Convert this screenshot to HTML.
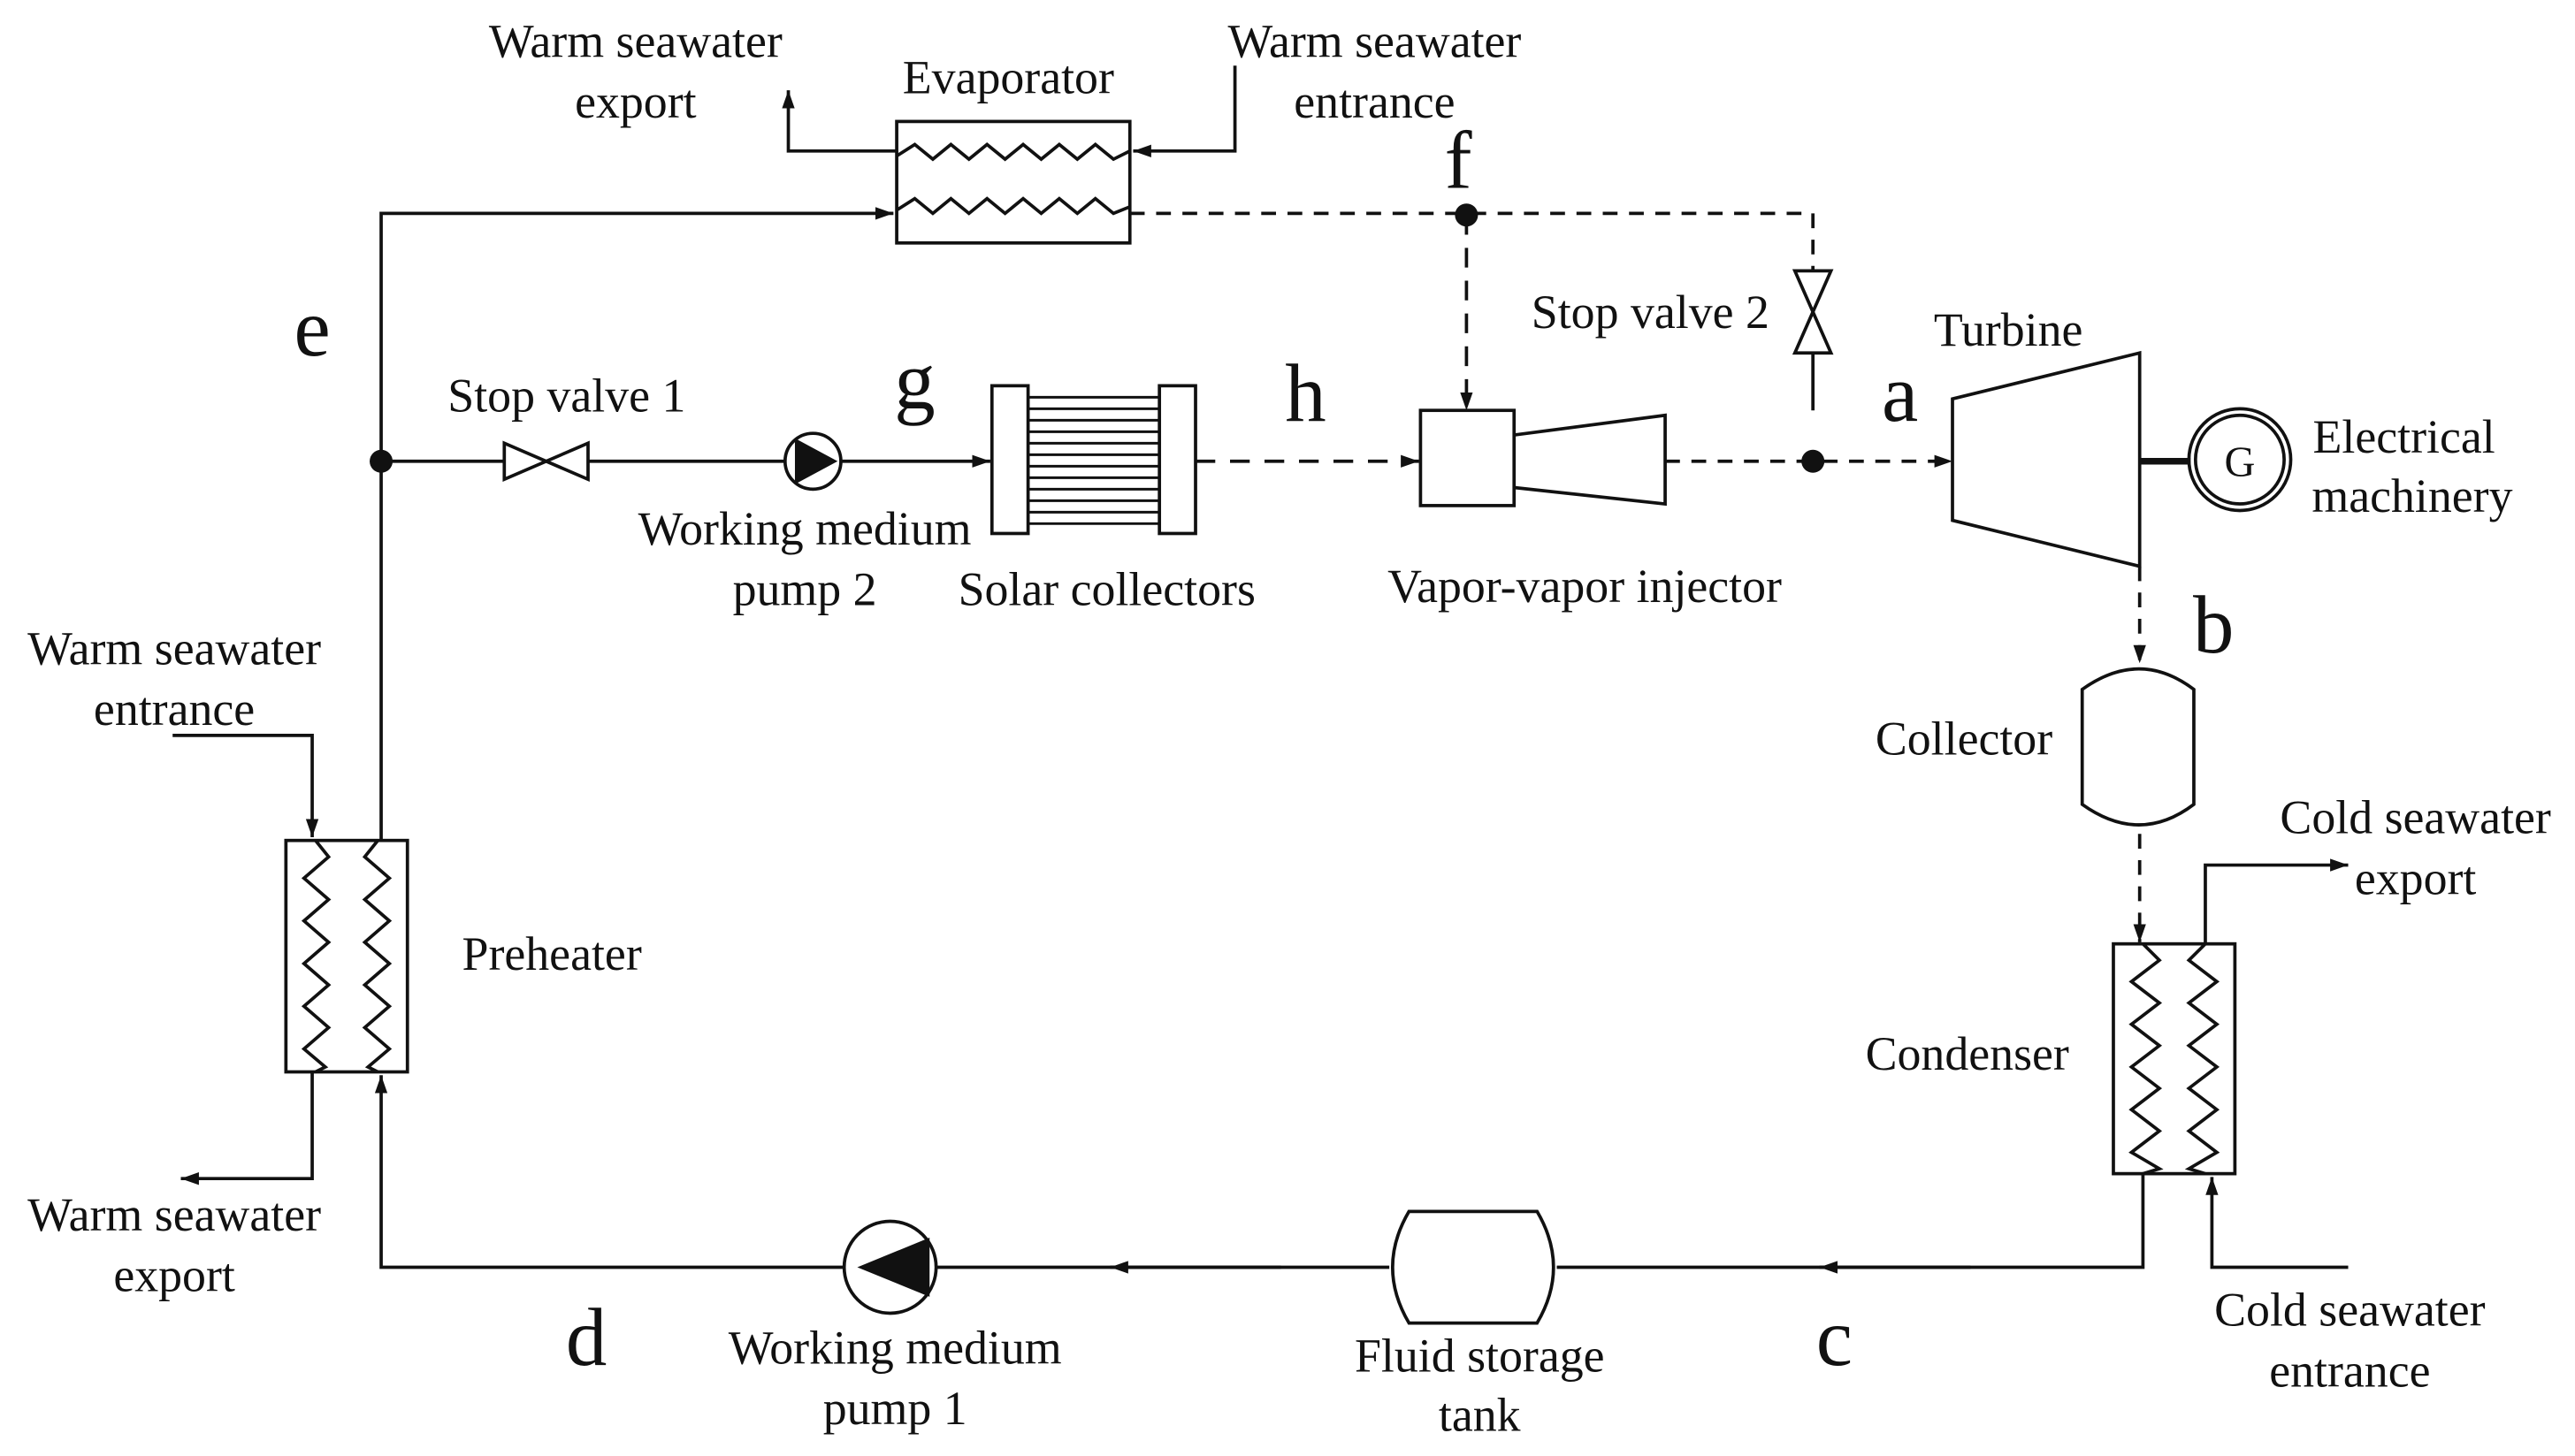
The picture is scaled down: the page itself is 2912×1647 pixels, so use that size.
<!DOCTYPE html>
<html><head><meta charset="utf-8"><style>
html,body{margin:0;padding:0;background:#fff;}
svg{display:block;}
text{font-family:"Liberation Serif",serif;fill:#111;}
</style></head><body>
<svg width="2912" height="1647" viewBox="0 0 1568 887" xmlns="http://www.w3.org/2000/svg">
<defs>
<marker id="ar" viewBox="0 0 10 10" refX="10" refY="5" markerWidth="11" markerHeight="11" markerUnits="userSpaceOnUse" orient="auto"><path d="M0,1.5 L10,5 L0,8.5 z" fill="#111"/></marker>
</defs>
<g stroke="#111" stroke-width="2" fill="none">
<rect x="546" y="74" width="142" height="74"/>
<polyline points="546,95 557,88 568,97 579,88 590,97 601,88 612,97 623,88 634,97 645,88 656,97 667,88 678,97 688,92"/>
<polyline points="546,128 557,121 568,130 579,121 590,130 601,121 612,130 623,121 634,130 645,121 656,130 667,121 678,130 688,126"/>
<polyline points="546,92 480,92 480,55" marker-end="url(#ar)"/>
<polyline points="752,40 752,92 690,92" marker-end="url(#ar)"/>
<polyline points="232,512 232,130 544,130" marker-end="url(#ar)"/>
<polyline points="688,130 1104,130 1104,165" stroke-dasharray="9,7"/>
<line x1="893" y1="131" x2="893" y2="250" stroke-dasharray="12,8" marker-end="url(#ar)"/>
<path d="M1093,165 L1115,165 L1093,215 L1115,215 Z"/>
<line x1="1104" y1="215" x2="1104" y2="250"/>
<rect x="865" y="250" width="57" height="58"/>
<path d="M922,265 L1014,253 L1014,307 L922,297"/>
<line x1="1014" y1="281" x2="1189" y2="281" stroke-dasharray="9,7" marker-end="url(#ar)"/>
<line x1="728" y1="281" x2="864" y2="281" stroke-dasharray="12,9" marker-end="url(#ar)"/>
<path d="M1189,243 L1303,215 L1303,345 L1189,317 Z"/>
<line x1="1303" y1="281" x2="1334" y2="281" stroke-width="4"/>
<circle cx="1364" cy="280" r="31"/>
<circle cx="1364" cy="280" r="27"/>
<line x1="1303" y1="345" x2="1303" y2="404" stroke-dasharray="9,7" marker-end="url(#ar)"/>
<path d="M1268,420 Q1303,395 1336,420 L1336,490 Q1303,515 1268,490 Z"/>
<line x1="1303" y1="508" x2="1303" y2="574" stroke-dasharray="9,7" marker-end="url(#ar)"/>
<rect x="1287" y="575" width="74" height="140"/>
<polyline points="1305,575 1315,585 1298,598 1315,611 1298,624 1315,637 1298,650 1315,663 1298,676 1315,689 1298,702 1315,712 1305,715"/>
<polyline points="1343,575 1333,585 1350,598 1333,611 1350,624 1333,637 1350,650 1333,663 1350,676 1333,689 1350,702 1333,712 1343,715"/>
<polyline points="1343,575 1343,527 1430,527" marker-end="url(#ar)"/>
<polyline points="1430,772 1347,772 1347,717" marker-end="url(#ar)"/>
<polyline points="1305,715 1305,772 948,772"/>
<line x1="1200" y1="772" x2="1108" y2="772" marker-end="url(#ar)"/>
<path d="M858,738 L936,738 Q956,772 936,806 L858,806 Q838,772 858,738 Z"/>
<line x1="846" y1="772" x2="570" y2="772"/>
<line x1="780" y1="772" x2="676" y2="772" marker-end="url(#ar)"/>
<circle cx="542" cy="772" r="28"/>
<polyline points="514,772 232,772 232,655" marker-end="url(#ar)"/>
<rect x="174" y="512" width="74" height="141"/>
<polyline points="192,512 200,522 185,535 200,548 185,561 200,574 185,587 200,600 185,613 200,626 185,639 198,650 192,653"/>
<polyline points="230,512 222,522 237,535 222,548 237,561 222,574 237,587 222,600 237,613 222,626 237,639 224,650 230,653"/>
<polyline points="105,448 190,448 190,510" marker-end="url(#ar)"/>
<polyline points="190,653 190,718 110,718" marker-end="url(#ar)"/>
<line x1="232" y1="281" x2="307" y2="281"/>
<path d="M307,270 L307,292 L358,270 L358,292 Z"/>
<line x1="358" y1="281" x2="478" y2="281"/>
<circle cx="495" cy="281" r="17"/>
<line x1="512" y1="281" x2="603" y2="281" marker-end="url(#ar)"/>
<rect x="604" y="235" width="22" height="90"/>
<rect x="706" y="235" width="22" height="90"/>
<g stroke-width="1.6">
<line x1="626" y1="242" x2="706" y2="242"/><line x1="626" y1="249" x2="706" y2="249"/>
<line x1="626" y1="256" x2="706" y2="256"/><line x1="626" y1="263" x2="706" y2="263"/>
<line x1="626" y1="270" x2="706" y2="270"/><line x1="626" y1="277" x2="706" y2="277"/>
<line x1="626" y1="284" x2="706" y2="284"/><line x1="626" y1="291" x2="706" y2="291"/>
<line x1="626" y1="298" x2="706" y2="298"/><line x1="626" y1="305" x2="706" y2="305"/>
<line x1="626" y1="312" x2="706" y2="312"/><line x1="626" y1="319" x2="706" y2="319"/>
</g>
</g>
<g fill="#111">
<circle cx="232" cy="281" r="7"/>
<circle cx="893" cy="131" r="7"/>
<circle cx="1104" cy="281" r="7"/>
<path d="M484,267 L510,281 L484,295 Z"/>
<path d="M566,754 L522,772 L566,790 Z"/>
</g>
<text x="1364" y="290" font-size="26" text-anchor="middle" fill="#333">G</text>
<g font-size="29" text-anchor="middle" dominant-baseline="central">
<text x="387" y="25">Warm seawater</text><text x="387" y="62">export</text>
<text x="614" y="47">Evaporator</text>
<text x="837" y="25">Warm seawater</text><text x="837" y="62">entrance</text>
<text x="345" y="241">Stop valve 1</text>
<text x="1005" y="190">Stop valve 2</text>
<text x="1223" y="201">Turbine</text>
<text x="1464" y="266">Electrical</text><text x="1469" y="302">machinery</text>
<text x="490" y="322">Working medium</text><text x="490" y="359">pump 2</text>
<text x="674" y="359">Solar collectors</text>
<text x="965" y="357">Vapor-vapor injector</text>
<text x="1196" y="450">Collector</text>
<text x="1471" y="498">Cold seawater</text><text x="1471" y="535">export</text>
<text x="106" y="395">Warm seawater</text><text x="106" y="432">entrance</text>
<text x="336" y="581">Preheater</text>
<text x="1198" y="642">Condenser</text>
<text x="106" y="740">Warm seawater</text><text x="106" y="777">export</text>
<text x="545" y="821">Working medium</text><text x="545" y="858">pump 1</text>
<text x="901" y="826">Fluid storage</text><text x="901" y="862">tank</text>
<text x="1431" y="798">Cold seawater</text><text x="1431" y="835">entrance</text>
</g>
<g font-size="50" text-anchor="middle" dominant-baseline="central">
<text x="888" y="98">f</text>
<text x="190" y="200">e</text>
<text x="557" y="232">g</text>
<text x="795" y="240">h</text>
<text x="1157" y="240">a</text>
<text x="1348" y="381">b</text>
<text x="357" y="815">d</text>
<text x="1117" y="815">c</text>
</g>
</svg>
</body></html>
